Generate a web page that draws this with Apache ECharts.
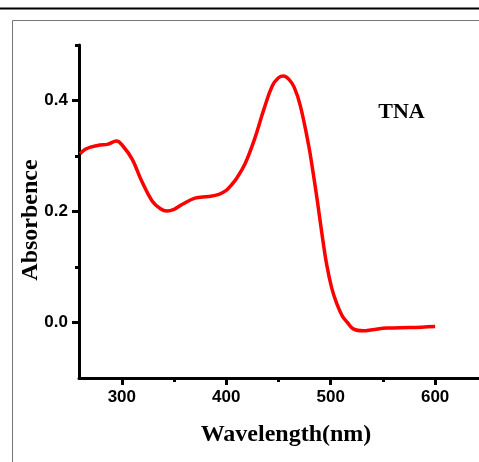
<!DOCTYPE html>
<html>
<head>
<meta charset="utf-8">
<script src="https://cdn.jsdelivr.net/npm/echarts@6/dist/echarts.min.js"></script>
<style>html,body{margin:0;padding:0;background:#fff;}#c{width:479px;height:462px;}</style>
</head>
<body>
<div id="c"></div>
<script>
const wavelength = [260,265,270,279,286,295,301,310,319,329,337,343,350,358,370,383,393,400,405,410,418,427,436,444,450,455,460,465,471,479,483,487,491,496,501,506,511,516,522,531,540,554,576,600];
const absorbance = [0.304,0.312,0.316,0.320,0.321,0.327,0.318,0.294,0.255,0.219,0.205,0.201,0.204,0.213,0.224,0.227,0.231,0.238,0.248,0.260,0.286,0.330,0.384,0.426,0.441,0.444,0.438,0.424,0.390,0.318,0.272,0.222,0.168,0.106,0.062,0.033,0.012,0.000,-0.012,-0.015,-0.013,-0.010,-0.009,-0.007];
const xMajorTicks = [300,400,500,600];
const xMinorTicks = [350,450,550];
const yMajorTicks = [0.0,0.2,0.4];
const yMinorTicks = [0.1,0.3,0.5];
const xTitle = 'Wavelength(nm)';
const yTitle = 'Absorbence';
const seriesLabel = 'TNA';

const chart = echarts.init(document.getElementById('c'), null, {renderer:'canvas'});
const labelFont = {fontFamily:'"Liberation Sans", Arial, sans-serif', fontWeight:'bold', fontSize:17, color:'#000'};
const serif = '"Liberation Serif", "Times New Roman", serif';
const data = wavelength.map((w,i)=>[w, absorbance[i]]);
chart.setOption({
  backgroundColor:'#fff',
  animation:false,
  grid:{left:79, right:0, top:45, bottom:84, containLabel:false},
  xAxis:[{
    type:'value', min:259, max:642, position:'bottom', offset:0,
    axisLine:{show:true, onZero:false, lineStyle:{color:'#000', width:3}},
    axisTick:{show:true, customValues:xMajorTicks, length:7, lineStyle:{color:'#000', width:3}},
    axisLabel:Object.assign({show:true, customValues:xMajorTicks, margin:11, formatter:v=>String(v)}, labelFont),
    splitLine:{show:false}
  },{
    type:'value', min:259, max:642, position:'bottom', offset:0,
    axisLine:{show:false, onZero:false},
    axisTick:{show:true, customValues:xMinorTicks, length:4, lineStyle:{color:'#000', width:3}},
    axisLabel:{show:false}, splitLine:{show:false}
  }],
  yAxis:[{
    type:'value', min:-0.1, max:0.5, position:'left', offset:0,
    axisLine:{show:true, onZero:false, lineStyle:{color:'#000', width:3}},
    axisTick:{show:true, customValues:yMajorTicks, length:7, lineStyle:{color:'#000', width:3}},
    axisLabel:Object.assign({show:true, customValues:yMajorTicks, margin:11, formatter:v=>v.toFixed(1)}, labelFont),
    splitLine:{show:false}
  },{
    type:'value', min:-0.1, max:0.5, position:'left', offset:0,
    axisLine:{show:false, onZero:false},
    axisTick:{show:true, customValues:yMinorTicks, length:4, lineStyle:{color:'#000', width:3}},
    axisLabel:{show:false}, splitLine:{show:false}
  }],
  series:[{
    type:'line', xAxisIndex:0, yAxisIndex:0, data:data, smooth:0.4, showSymbol:false,
    lineStyle:{color:'#ff0000', width:3.5}, itemStyle:{color:'#ff0000'}
  }],
  graphic:[
    {type:'rect', shape:{x:0, y:7.5, width:479, height:2}, style:{fill:'#000'}, silent:true},
    {type:'polyline', shape:{points:[[12.5,462],[12.5,20.5],[479,20.5]]}, style:{stroke:'#777', lineWidth:1, fill:null}, silent:true},
    {type:'text', x:401.5, y:112, style:{text:seriesLabel, font:'bold 22px ' + serif, fill:'#000', textAlign:'center', textVerticalAlign:'middle'}},
    {type:'text', x:286, y:435, style:{text:xTitle, font:'bold 24px ' + serif, fill:'#000', textAlign:'center', textVerticalAlign:'middle'}},
    {type:'text', x:31, y:220, rotation:Math.PI/2, style:{text:yTitle, font:'bold 24px ' + serif, fill:'#000', textAlign:'center', textVerticalAlign:'middle'}}
  ]
});
</script>
</body>
</html>
